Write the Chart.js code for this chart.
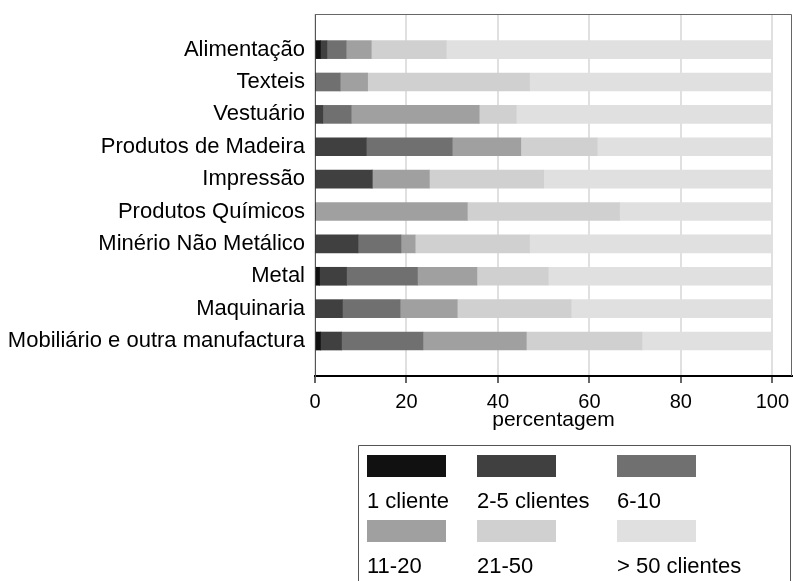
<!DOCTYPE html>
<html>
<head>
<meta charset="utf-8">
<script src="https://cdn.jsdelivr.net/npm/chart.js@4/dist/chart.umd.min.js"></script>
<style>
html,body{margin:0;padding:0;background:#fff;}
#c{display:block;}
</style>
</head>
<body>
<canvas id="c" width="793" height="581"></canvas>
<script>
const categories = ["Alimentação","Texteis","Vestuário","Produtos de Madeira","Impressão","Produtos Químicos","Minério Não Metálico","Metal","Maquinaria","Mobiliário e outra manufactura"];
const seriesNames = ["1 cliente","2-5 clientes","6-10","11-20","21-50","> 50 clientes"];
const oneClient   = [1.2, 0,    0,    0,    0,    0,    0,    1.0,  0,    1.2];
const twoToFive   = [1.4, 0,    1.7,  11.2, 12.5, 0,    9.4,  5.9,  6.0,  4.6];
const sixToTen    = [4.2, 5.5,  6.2,  18.8, 0,    0,    9.4,  15.5, 12.6, 17.8];
const elevenTo20  = [5.5, 6.0,  28.0, 15.0, 12.5, 33.3, 3.1,  13.0, 12.5, 22.6];
const twentyOneTo50 = [16.4, 35.4, 8.1, 16.7, 25.0, 33.3, 25.0, 15.6, 24.9, 25.3];
const over50      = [71.3, 53.1, 56.0, 38.3, 50.0, 33.4, 53.1, 49.0, 44.0, 28.5];
const xTicks = [0, 20, 40, 60, 80, 100];

const seriesValues = [oneClient, twoToFive, sixToTen, elevenTo20, twentyOneTo50, over50];
const colors = ["#111111","#404040","#707070","#a0a0a0","#d0d0d0","#e0e0e0"];
const FONT = "'Liberation Sans', Arial, sans-serif";

const datasets = seriesValues.map((arr, k) => ({
  label: seriesNames[k],
  data: arr.map((v, i) => ({x: v, y: i})),
  backgroundColor: colors[k],
  borderWidth: 0,
  barThickness: 18
}));

function zeroPad(s) { s.paddingLeft = 0; s.paddingRight = 0; s.paddingTop = 0; s.paddingBottom = 0; }

const framePlugin = {
  id: 'frameLegend',
  afterDraw(chart) {
    const ctx = chart.ctx;
    const a = chart.chartArea;
    ctx.save();
    ctx.strokeStyle = '#666';
    ctx.lineWidth = 1;
    ctx.beginPath();
    ctx.moveTo(a.left, a.top + 0.5);
    ctx.lineTo(a.right - 0.5, a.top + 0.5);
    ctx.lineTo(a.right - 0.5, a.bottom);
    ctx.stroke();
    ctx.strokeStyle = '#555';
    ctx.beginPath();
    ctx.moveTo(358.5, 600);
    ctx.lineTo(358.5, 445.5);
    ctx.lineTo(790.5, 445.5);
    ctx.lineTo(790.5, 600);
    ctx.stroke();
    const colX = [367, 477, 617];
    const rowSwY = [455, 520];
    const rowTxtY = [508, 573];
    ctx.font = '22px ' + FONT;
    ctx.textBaseline = 'alphabetic';
    ctx.textAlign = 'left';
    chart.data.datasets.forEach((ds, k) => {
      const c = k % 3, r = Math.floor(k / 3);
      ctx.fillStyle = ds.backgroundColor;
      ctx.fillRect(colX[c], rowSwY[r], 79, 22);
      ctx.fillStyle = '#000';
      ctx.fillText(ds.label, colX[c], rowTxtY[r]);
    });
    ctx.restore();
  }
};

new Chart(document.getElementById('c'), {
  type: 'bar',
  data: { datasets },
  options: {
    indexAxis: 'y',
    responsive: false,
    animation: false,
    devicePixelRatio: 1,
    layout: { padding: { top: 14, right: 1, bottom: 0, left: 0 } },
    plugins: { legend: { display: false }, tooltip: { enabled: false } },
    scales: {
      x: {
        type: 'linear',
        stacked: true,
        min: 0,
        max: 104.3,
        afterBuildTicks: (s) => { s.ticks = xTicks.map(v => ({value: v})); },
        afterFit: (s) => { s.height = 205; zeroPad(s); },
        grid: { color: '#e0e0e0', lineWidth: 2, drawTicks: true, tickLength: 7, tickColor: '#000', tickWidth: 1.2 },
        border: { display: true, color: '#000', width: 2 },
        ticks: { color: '#000', font: { family: FONT, size: 20 }, padding: 7, maxRotation: 0 },
        title: { display: true, text: 'percentagem', color: '#000', font: { family: FONT, size: 21 }, padding: { top: 0, bottom: 148 } }
      },
      y: {
        type: 'linear',
        stacked: true,
        reverse: true,
        offset: false,
        bounds: 'data',
        min: -1.1,
        max: 10.08,
        afterBuildTicks: (s) => { s.ticks = categories.map((_, i) => ({value: i})); },
        afterFit: (s) => { s.width = 315; zeroPad(s); },
        grid: { display: false, drawTicks: false },
        border: { display: true, color: '#555', width: 1 },
        ticks: { color: '#000', font: { family: FONT, size: 22 }, padding: 10, callback: (v) => categories[v] }
      }
    }
  },
  plugins: [framePlugin]
});
</script>
</body>
</html>
